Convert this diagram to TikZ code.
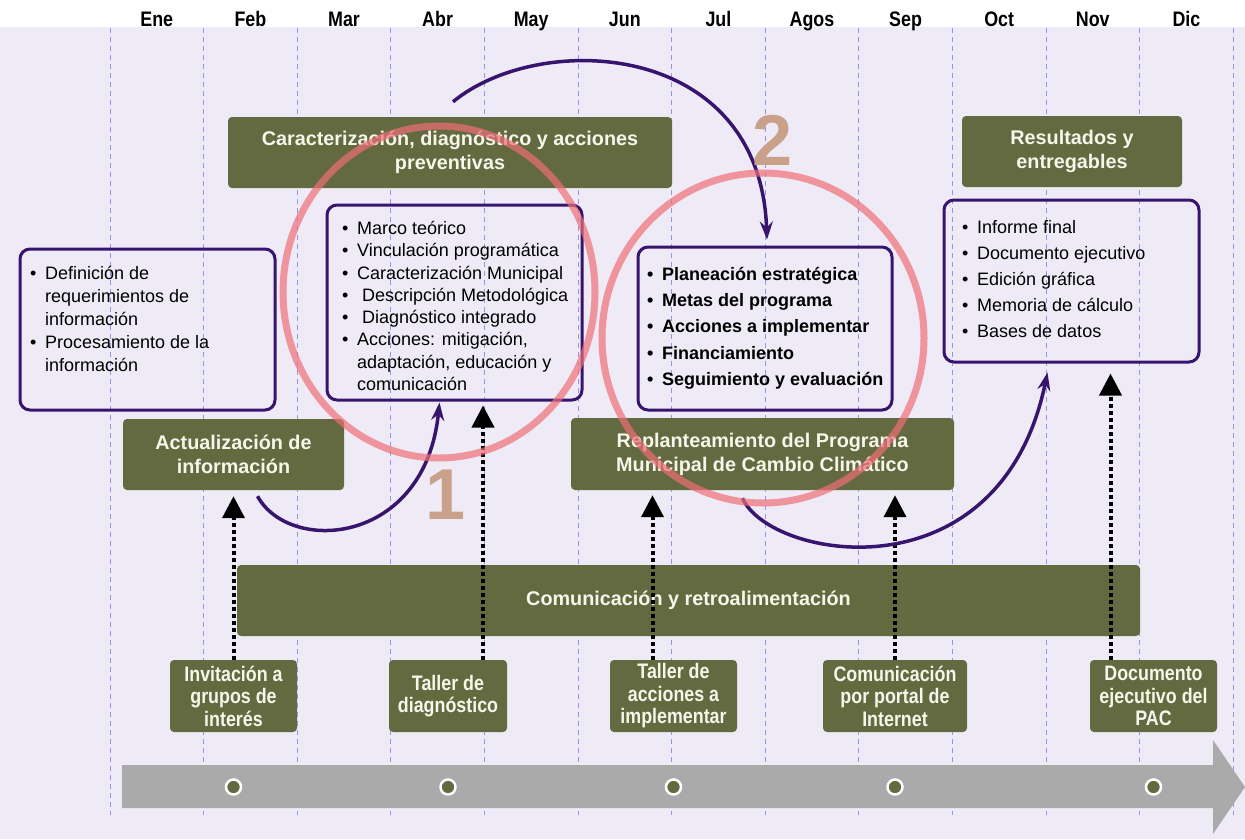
\documentclass[tikz,border=0pt]{standalone}
\usepackage{fontspec}
\setmainfont{Liberation Sans}
\newfontfamily\narrowfont[FakeStretch=0.85]{Liberation Sans}
\usetikzlibrary{arrows.meta,positioning}

\definecolor{pacbg}{RGB}{238,235,246}
\definecolor{pacgrid}{RGB}{150,148,228}
\definecolor{pacgreen}{RGB}{100,106,64}
\definecolor{pacwhite}{RGB}{246,246,234}
\definecolor{pacpurple}{RGB}{55,20,110}
\definecolor{pacgray}{RGB}{170,170,170}
\definecolor{pacred}{RGB}{240,110,120}
\definecolor{pactan}{RGB}{201,160,138}

\newcommand{\itembul}{\makebox[15pt][l]{\textbullet}}
\newcommand{\itemgap}{\hspace*{15pt}}

\begin{document}
\begin{tikzpicture}[x=1pt,y=-1pt,>=latex,
    greenbox/.style={fill=pacgreen, rounded corners=4pt, text=pacwhite, align=center,
      inner sep=0pt, font=\bfseries\fontsize{19.8}{24}\selectfont},
    eventbox/.style={greenbox, minimum height=72pt,
      font=\narrowfont\bfseries\fontsize{21}{22.5}\selectfont},
    listbox/.style={draw=pacpurple, line width=3pt, rounded corners=10pt, inner sep=0pt},
    listtext/.style={anchor=north west, align=left, inner sep=0pt},
    month/.style={anchor=base, font=\narrowfont\bfseries\fontsize{21}{21}\selectfont},
    monthline/.style={draw=pacgrid, line width=1pt, dash pattern=on 5pt off 4pt},
    dotarrow/.style={line width=4pt, dash pattern=on 4pt off 3pt,
      -{Triangle[length=22pt,width=22pt]}},
    looparrow/.style={draw=pacpurple, line width=3.5pt,
      -{Stealth[length=18pt,width=13pt,inset=6pt]}},
    focus/.style={draw=pacred, line width=7pt, draw opacity=0.7},
    stepnum/.style={text=pactan, inner sep=0pt, font=\bfseries\fontsize{72}{72}\selectfont},
    tick/.style={circle, fill=pacgreen, draw=white, line width=2.5pt,
      minimum size=15pt, inner sep=0pt}
  ]

    \useasboundingbox (0,0) rectangle (1245,839);

    % Background and month grid
    \fill[white] (0,0) rectangle (1245,27);
    \fill[pacbg] (0,27) rectangle (1245,839);
    \foreach \k in {0,...,12}
      \draw[monthline] ({110+93.6*\k},28) -- ({110+93.6*\k},815);
    \foreach \m [count=\k from 0] in {Ene,Feb,Mar,Abr,May,Jun,Jul,Agos,Sep,Oct,Nov,Dic}
      \node[month] (m\k) at ({110+93.6*(\k+0.5)},26) {\m};

    % Time line
    \fill[pacgray] (122,765) -- (1213,765) -- (1213,740) -- (1245,787)
      -- (1213,834) -- (1213,808) -- (122,808) -- cycle;

    % Phase boxes
    \node[greenbox, minimum width=444pt, minimum height=71pt] (caract) at (450,152.5)
      {Caracterización, diagnóstico y acciones\\preventivas};
    \node[greenbox, minimum width=220pt, minimum height=71pt] (result) at (1072,151.5)
      {Resultados y\\entregables};
    \node[greenbox, minimum width=221pt, minimum height=71pt] (actual) at (233.5,454.5)
      {Actualización de\\información};
    \node[greenbox, minimum width=383pt, minimum height=72pt] (replan) at (762.5,454)
      {Replanteamiento del Programa\\Municipal de Cambio Climático};
    \node[greenbox, minimum width=903pt, minimum height=71pt] (comun) at (688.5,600.5)
      {Comunicación y retroalimentación};

    % Lists
    \node[listbox, minimum width=255pt, minimum height=161pt] (defbox) at (147.5,329.5) {};
    \node[listtext, font=\fontsize{18}{23}\selectfont] (deftext) at (30,266)
      {\itembul Definición de\\\itemgap requerimientos de\\\itemgap información\\
       \itembul Procesamiento de la\\\itemgap información};

    \node[listbox, minimum width=255pt, minimum height=195pt] (marcobox) at (454.5,302.5) {};
    \node[listtext, font=\fontsize{18}{22.3}\selectfont] (marcotext) at (342,221)
      {\itembul Marco teórico\\\itembul Vinculación programática\\
       \itembul Caracterización Municipal\\\itembul \ Descripción Metodológica\\
       \itembul \ Diagnóstico integrado\\\itembul Acciones: mitigación,\\
       \itemgap adaptación, educación y\\\itemgap comunicación};

    \node[listbox, minimum width=254pt, minimum height=163pt] (planbox) at (765,328.5) {};
    \node[listtext, font=\bfseries\fontsize{18}{26.2}\selectfont] (plantext) at (647,267)
      {\itembul Planeación estratégica\\\itembul Metas del programa\\
       \itembul Acciones a implementar\\\itembul Financiamiento\\
       \itembul Seguimiento y evaluación};

    \node[listbox, minimum width=255pt, minimum height=162pt] (resbox) at (1071.5,281) {};
    \node[listtext, font=\fontsize{18}{26}\selectfont] (restext) at (962,220)
      {\itembul Informe final\\\itembul Documento ejecutivo\\
       \itembul Edición gráfica\\\itembul Memoria de cálculo\\
       \itembul Bases de datos};

    % Events
    \node[eventbox, minimum width=127pt] (inv) at (233.5,696) {Invitación a\\grupos de\\interés};
    \node[eventbox, minimum width=118pt] (tdiag) at (448,696) {Taller de\\diagnóstico};
    \node[eventbox, minimum width=127pt] (tacc) at (673.5,696) {Taller de\\acciones a\\implementar};
    \node[eventbox, minimum width=144pt] (portal) at (895,696) {Comunicación\\por portal de\\Internet};
    \node[eventbox, minimum width=127pt] (docej) at (1153.5,696) {Documento\\ejecutivo del\\PAC};

    \coordinate (tl) at (0,787);
    \foreach \n in {inv,tdiag,tacc,portal,docej}
      \node[tick] (tick-\n) at (\n |- tl) {};

    % Feedback arrows
    \coordinate (d2) at ([xshift=35pt]tdiag.north);
    \coordinate (d3) at ([xshift=-21pt]tacc.north);
    \coordinate (d5) at ([xshift=-43pt]docej.north);
    \draw[dotarrow] (inv.north) -- ([yshift=-6pt]actual.south);
    \draw[dotarrow, shorten >=4pt] (d2) -- (d2 |- marcobox.south);
    \draw[dotarrow, shorten >=5pt] (d3) -- (d3 |- replan.south);
    \draw[dotarrow, shorten >=5pt] (portal.north) -- (portal.north |- replan.south);
    \draw[dotarrow, shorten >=10pt] (d5) -- (d5 |- resbox.south);

    % Process arrows
    \draw[looparrow] ([shift={(24,6)}]actual.south) .. controls (290,555) and (425,545)
      .. ([shift={(-15,1)}]marcobox.south);
    \draw[looparrow] ([shift={(3,-15)}]caract.north) .. controls (540,30) and (760,40)
      .. ([shift={(2,-6)}]planbox.north);
    \draw[looparrow] ([shift={(-20,8)}]replan.south) .. controls (770,560) and (1000,600)
      .. ([shift={(-24,9)}]resbox.south);

    % Highlighted stages
    \draw[focus] (439,292) ellipse [x radius=156pt, y radius=166pt];
    \draw[focus] (763,338) ellipse [x radius=161pt, y radius=165pt];
    \node[stepnum] (one) at (446,495) {1};
    \node[stepnum] (two) at (773,140) {2};

\end{tikzpicture}
\end{document}
